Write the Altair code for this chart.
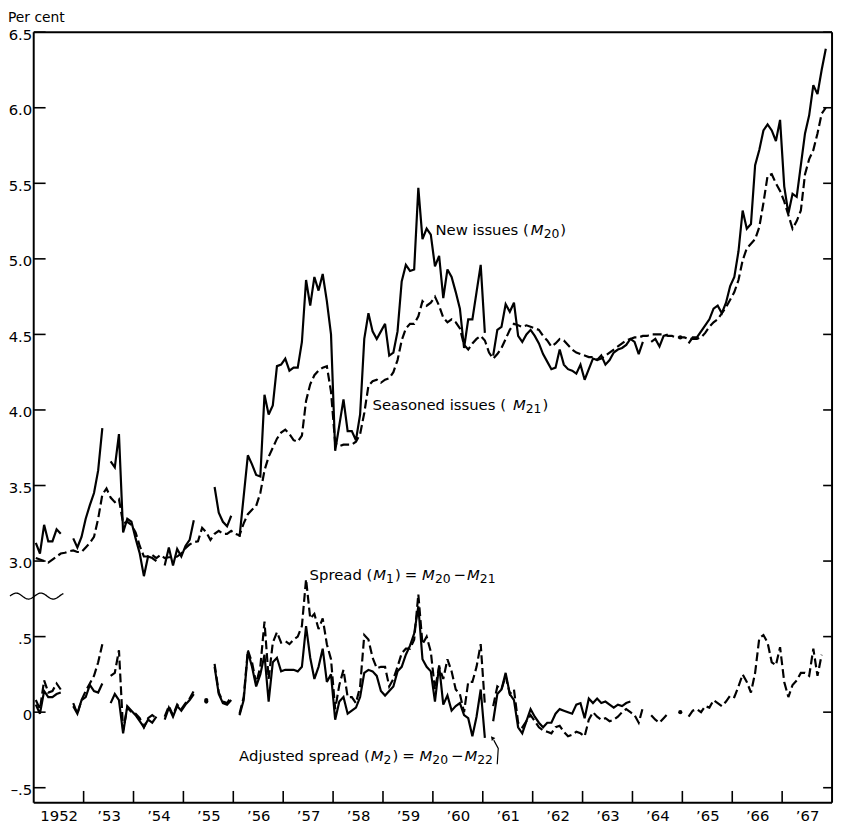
import altair as alt
import numpy as np
import pandas as pd

# ---------------- data (monthly, one row of 12 per year, 1952-1967) ----------------
YEARS = list(range(1952, 1968))

# New issues (M20), per cent
M20_ROWS = [
    [3.12, 3.05, 3.24, 3.13, 3.13, 3.21, 3.18, None, None, 3.15, 3.09, 3.16],
    [3.28, 3.37, 3.45, 3.60, 3.88, None, 3.66, 3.62, 3.84, 3.19, 3.28, 3.26],
    [3.15, 3.05, 2.90, 3.03, 3.02, 3.00, None, 2.97, 3.09, 2.97, 3.08, 3.03],
    [3.10, 3.14, 3.27, None, None, None, None, 3.49, 3.32, 3.26, 3.23, 3.30],
    [None, 3.16, 3.43, 3.70, 3.64, 3.57, 3.56, 4.10, 3.97, 4.03, 4.29, 4.30],
    [4.34, 4.26, 4.28, 4.28, 4.45, 4.86, 4.69, 4.88, 4.79, 4.90, 4.72, 4.50],
    [3.73, 3.90, 4.07, 3.86, 3.86, 3.80, 3.97, 4.47, 4.64, 4.52, 4.47, 4.52],
    [4.57, 4.36, 4.38, 4.52, 4.85, 4.96, 4.92, 4.93, 5.47, 5.13, 5.20, 5.16],
    [4.95, 5.02, 4.74, 4.93, 4.88, 4.78, 4.67, 4.41, 4.60, 4.60, 4.78, 4.96],
    [4.51, None, 4.36, 4.53, 4.55, 4.70, 4.65, 4.71, 4.49, 4.45, 4.50, 4.53],
    [4.49, 4.44, 4.37, 4.32, 4.27, 4.28, 4.40, 4.30, 4.27, 4.26, 4.24, 4.30],
    [4.20, 4.27, 4.34, 4.33, 4.36, 4.30, 4.33, 4.38, 4.40, 4.41, 4.43, 4.47],
    [4.45, 4.37, 4.45, None, 4.45, 4.47, 4.42, 4.49, 4.50, None, None, 4.48],
    [None, 4.44, 4.48, 4.48, 4.52, 4.56, 4.60, 4.67, 4.69, 4.64, 4.71, 4.82],
    [4.88, 5.05, 5.32, 5.20, 5.23, 5.62, 5.72, 5.85, 5.89, 5.85, 5.78, 5.92],
    [5.48, 5.30, 5.43, 5.41, 5.62, 5.83, 5.95, 6.15, 6.09, 6.25, 6.39, None],
]

# Seasoned issues (M21), per cent
M21_ROWS = [
    [3.02, 3.01, 3.00, 2.99, 3.01, 3.03, 3.05, 3.055, 3.065, 3.07, 3.06, 3.06],
    [3.09, 3.12, 3.16, 3.28, 3.44, 3.48, 3.42, 3.39, 3.41, 3.25, 3.26, 3.24],
    [3.19, 3.10, 3.03, 3.03, 3.04, 3.02, 3.04, 3.02, 3.025, 3.025, 3.03, 3.05],
    [3.085, 3.11, 3.125, 3.13, 3.22, 3.19, 3.14, 3.18, 3.20, 3.18, 3.18, 3.20],
    [3.18, 3.17, 3.25, 3.31, 3.34, 3.365, 3.45, 3.60, 3.69, 3.75, 3.81, 3.85],
    [3.87, 3.84, 3.80, 3.79, 3.83, 4.06, 4.17, 4.23, 4.26, 4.28, 4.29, 4.12],
    [3.78, 3.76, 3.77, 3.77, 3.77, 3.79, 3.84, 3.98, 4.16, 4.19, 4.20, 4.18],
    [4.20, 4.21, 4.25, 4.33, 4.46, 4.54, 4.57, 4.57, 4.62, 4.72, 4.69, 4.71],
    [4.75, 4.69, 4.61, 4.58, 4.60, 4.58, 4.54, 4.43, 4.40, 4.44, 4.47, 4.49],
    [4.46, 4.38, 4.34, 4.37, 4.41, 4.47, 4.53, 4.57, 4.56, 4.55, 4.56, 4.55],
    [4.54, 4.53, 4.49, 4.46, 4.42, 4.44, 4.47, 4.46, 4.43, 4.40, 4.38, 4.37],
    [4.36, 4.35, 4.35, 4.33, 4.34, 4.36, 4.38, 4.40, 4.42, 4.44, 4.46, 4.47],
    [4.48, 4.48, 4.49, 4.49, 4.50, 4.50, 4.50, 4.50, 4.49, 4.49, 4.48, 4.48],
    [4.48, 4.47, 4.47, 4.47, 4.48, 4.51, 4.55, 4.58, 4.60, 4.64, 4.68, 4.73],
    [4.78, 4.86, 4.99, 5.07, 5.10, 5.13, 5.21, 5.37, 5.55, 5.56, 5.50, 5.45],
    [5.38, 5.29, 5.20, 5.25, 5.32, 5.56, 5.66, 5.72, 5.83, 5.96, 6.00, None],
]

# Spread (M1) = M20 - M21, percentage points
M1_ROWS = [
    [0.08, 0.02, 0.21, 0.13, 0.14, 0.19, 0.15, None, None, 0.06, -0.01, 0.08],
    [0.14, 0.19, 0.24, 0.33, 0.45, None, 0.24, 0.26, 0.41, -0.12, 0.03, 0.00],
    [-0.01, -0.04, -0.10, -0.04, -0.02, -0.04, None, -0.03, 0.04, -0.02, 0.05, 0.02],
    [0.06, 0.09, 0.14, None, None, 0.08, None, 0.32, 0.13, 0.07, 0.06, 0.10],
    [None, -0.01, 0.10, 0.41, 0.33, 0.19, 0.30, 0.60, 0.22, 0.46, 0.53, 0.46],
    [0.47, 0.45, 0.48, 0.50, 0.57, 0.88, 0.62, 0.65, 0.55, 0.62, 0.45, 0.35],
    [0.02, 0.18, 0.28, 0.10, 0.10, 0.06, 0.17, 0.51, 0.48, 0.36, 0.29, 0.30],
    [0.30, 0.17, 0.22, 0.30, 0.39, 0.42, 0.42, 0.48, 0.78, 0.45, 0.50, 0.40],
    [0.15, 0.30, 0.22, 0.35, 0.27, 0.15, 0.12, 0.00, 0.20, 0.20, 0.30, 0.45],
    [0.05, None, 0.04, 0.17, 0.15, 0.24, 0.12, 0.15, -0.07, -0.10, -0.06, -0.02],
    [-0.06, -0.10, -0.12, -0.13, -0.14, -0.10, -0.09, -0.13, -0.16, -0.15, -0.13, -0.14],
    [-0.16, -0.05, 0.00, -0.03, -0.05, -0.04, -0.06, -0.05, -0.03, 0.00, 0.02, 0.00],
    [-0.02, -0.07, 0.03, None, -0.02, -0.05, -0.07, -0.04, -0.01, None, None, 0.00],
    [None, -0.03, 0.01, 0.02, 0.00, 0.04, 0.03, 0.08, 0.06, 0.04, 0.07, 0.11],
    [0.10, 0.17, 0.25, 0.20, 0.13, 0.26, 0.49, 0.51, 0.46, 0.33, 0.31, 0.43],
    [0.20, 0.10, 0.18, 0.21, 0.26, 0.26, 0.24, 0.42, 0.24, 0.38, None, None],
]

# Adjusted spread (M2) = M20 - M22, percentage points
M2_ROWS = [
    [0.05, -0.01, 0.14, 0.10, 0.10, 0.12, 0.13, None, None, 0.04, -0.01, 0.08],
    [0.10, 0.18, 0.14, 0.13, 0.19, None, 0.06, 0.12, 0.08, -0.14, 0.04, 0.01],
    [-0.02, -0.06, -0.10, -0.05, -0.07, -0.03, None, -0.05, 0.03, -0.03, 0.04, 0.01],
    [0.05, 0.08, 0.12, None, None, 0.07, None, 0.30, 0.12, 0.06, 0.05, 0.08],
    [None, -0.02, 0.08, 0.40, 0.30, 0.17, 0.25, 0.38, 0.07, 0.33, 0.36, 0.27],
    [0.28, 0.28, 0.28, 0.27, 0.30, 0.57, 0.36, 0.22, 0.30, 0.42, 0.20, 0.25],
    [-0.05, 0.07, 0.10, -0.01, 0.01, 0.03, 0.10, 0.26, 0.28, 0.27, 0.24, 0.14],
    [0.11, 0.14, 0.17, 0.27, 0.30, 0.38, 0.44, 0.52, 0.70, 0.35, 0.30, 0.27],
    [0.07, 0.31, 0.05, 0.11, 0.01, 0.04, 0.06, -0.02, -0.04, -0.16, -0.03, 0.15],
    [-0.17, None, -0.06, 0.12, 0.15, 0.26, 0.12, 0.08, -0.10, -0.14, -0.06, 0.02],
    [-0.03, -0.07, -0.10, -0.07, -0.07, -0.01, 0.02, 0.01, 0.00, -0.01, 0.05, 0.06],
    [-0.04, 0.09, 0.06, 0.09, 0.06, 0.07, 0.05, 0.03, 0.05, 0.04, 0.06, 0.07],
    [None] * 12, [None] * 12, [None] * 12, [None] * 12,
]

UPPER_TICKS = [3.0, 3.5, 4.0, 4.5, 5.0, 5.5, 6.0, 6.5]
LOWER_TICKS = [-0.5, 0.0, 0.5]
LOWER_OFFSET = 2.0          # lower panel is drawn 2.0 units under its own labels
LOWER_LABELS = {-0.5: "\u2013.5", 0.0: "0", 0.5: ".5"}

# ---------------- layout ----------------
W, H = 807, 779
X_DOMAIN = [1952, 1968]
Y_DOMAIN = [1.4, 6.5]
PX_PER_YEAR = W / (X_DOMAIN[1] - X_DOMAIN[0])
PX_PER_UNIT = H / (Y_DOMAIN[1] - Y_DOMAIN[0])
FONT = "DejaVu Sans"

# ---------------- build long table with path segments ----------------
series_spec = [
    ("M20", M20_ROWS, "solid", 0.0),
    ("M21", M21_ROWS, "dash", 0.0),
    ("M1", M1_ROWS, "dash", LOWER_OFFSET),
    ("M2", M2_ROWS, "solid", LOWER_OFFSET),
]
rows = []
for name, yrs, style, off in series_spec:
    flat = [v for r in yrs for v in r]
    seg = 0
    prev_none = True
    for i, v in enumerate(flat):
        if v is None:
            prev_none = True
            continue
        if prev_none:
            seg += 1
        prev_none = False
        rows.append({"t": YEARS[0] + (i + 0.5) / 12.0, "y": v + off,
                     "series": name, "style": style, "seg": f"{name}_{seg}"})
df = pd.DataFrame(rows)
counts = df.groupby("seg")["t"].transform("count")
df["single"] = counts == 1

xs = alt.Scale(domain=X_DOMAIN, nice=False, zero=False)
ys = alt.Scale(domain=Y_DOMAIN, nice=False, zero=False)

x_axis = alt.Axis(
    values=[y + 0.5 for y in YEARS],
    labelExpr="datum.value < 1953 ? '1952' : '\u2019' + format(floor(datum.value) % 100, '02d')",
    ticks=False, domain=False, grid=False, title=None, labelPadding=6,
    labelFontSize=15, labelFont=FONT, labelColor="black",
)
lower_expr = " : ".join(
    f"datum.value == {v + LOWER_OFFSET} ? '{lab}'" for v, lab in LOWER_LABELS.items()
)
y_axis = alt.Axis(
    values=[v + LOWER_OFFSET for v in LOWER_TICKS] + UPPER_TICKS,
    labelExpr=f"datum.value >= 3 ? format(datum.value, '.1f') : {lower_expr} : ''",
    ticks=False, domain=False, grid=False, title=None, labelPadding=2,
    labelFontSize=15, labelFont=FONT, labelColor="black", labelOffset=2,
)


def X(field):
    return alt.X(field, type="quantitative", scale=xs, axis=x_axis)


def Y(field):
    return alt.Y(field, type="quantitative", scale=ys, axis=y_axis)


base = alt.Chart(df)
solid = base.transform_filter("datum.style == 'solid'").mark_line(
    color="black", strokeWidth=2.2, strokeJoin="miter", strokeMiterLimit=3
).encode(x=X("t"), y=Y("y"), detail="seg:N", order="t:Q")
dashed = base.transform_filter("datum.style == 'dash'").mark_line(
    color="black", strokeWidth=2.2, strokeDash=[9, 4], strokeJoin="miter", strokeMiterLimit=3
).encode(x=X("t"), y=Y("y"), detail="seg:N", order="t:Q")
dots = base.transform_filter("datum.single").mark_circle(
    color="black", size=18, opacity=1
).encode(x=X("t"), y=Y("y"))

# ---------------- frame and inward ticks ----------------
frame_df = pd.DataFrame({"k": [0]})
frame = [
    alt.Chart(frame_df).mark_rule(color="black", strokeWidth=2).encode(
        x=alt.value(0), y=alt.value(0), y2=alt.value(H)),
    alt.Chart(frame_df).mark_rule(color="black", strokeWidth=2).encode(
        x=alt.value(W), y=alt.value(0), y2=alt.value(H)),
    alt.Chart(frame_df).mark_rule(color="black", strokeWidth=2).encode(
        x=alt.value(0), x2=alt.value(W), y=alt.value(0)),
    alt.Chart(frame_df).mark_rule(color="black", strokeWidth=2).encode(
        x=alt.value(0), x2=alt.value(W), y=alt.value(H)),
]
tick_df = pd.DataFrame({"v": UPPER_TICKS + [v + LOWER_OFFSET for v in LOWER_TICKS]})
left_ticks = alt.Chart(tick_df).mark_rule(color="black", strokeWidth=1.6).encode(
    y=Y("v"), x=alt.value(0), x2=alt.value(12))
right_ticks = alt.Chart(tick_df).mark_rule(color="black", strokeWidth=1.6).encode(
    y=Y("v"), x=alt.value(W - 9), x2=alt.value(W))
xt_df = pd.DataFrame({"yr": YEARS[1:]})
bottom_ticks = alt.Chart(xt_df).mark_rule(color="black", strokeWidth=1.6).encode(
    x=X("yr"), y=alt.value(H), y2=alt.value(H - 12))

# ---------------- axis break symbol ----------------
wx = np.linspace(X_DOMAIN[0] - 24 / PX_PER_YEAR, X_DOMAIN[0] + 30 / PX_PER_YEAR, 80)
wave_center = 6.5 - (598 - 28) / PX_PER_UNIT
wy = wave_center + (3 / PX_PER_UNIT) * np.sin((wx - wx[0]) * PX_PER_YEAR / 25 * 2 * np.pi)
wave = alt.Chart(pd.DataFrame({"wx": wx, "wy": wy})).mark_line(
    color="black", strokeWidth=1.3).encode(x=X("wx"), y=Y("wy"), order="wx:Q")

# ---------------- annotations ----------------
CHARW = {" ": 651, "(": 799, ")": 799, "=": 1716, "\u2212": 1716, "M": 1767}


def tw(s, size):
    return sum(CHARW.get(c, 1303 if c.isdigit() else 1200) for c in s) * size / 2048


FS, SUB = 15, 12.5
annotations = [
    # first text, start year, y (drawn units), following pieces (text, kind, gap px)
    ("New issues (", 1960.05, 5.19,
     [("M", "it", 2), ("20", "sub", 0), (")", "n", 1)]),
    ("Seasoned issues (", 1958.72, 4.03,
     [("M", "it", 7), ("21", "sub", 0), (")", "n", 1)]),
    ("Spread (", 1957.53, 0.906 + LOWER_OFFSET,
     [("M", "it", 1), ("1", "sub", 0), (")", "n", 1), ("=", "n", 4),
      ("M", "it", 5), ("20", "sub", 0), ("\u2212", "n", 3), ("M", "it", 1), ("21", "sub", 0)]),
    ("Adjusted spread (", 1955.99, -0.292 + LOWER_OFFSET,
     [("M", "it", 1), ("2", "sub", 0), (")", "n", 1), ("=", "n", 4),
      ("M", "it", 5), ("20", "sub", 0), ("\u2212", "n", 3), ("M", "it", 1), ("22", "sub", 0)]),
]
first_rows, piece_rows = [], []
for first, x0, y0, pieces in annotations:
    ax = x0 + tw(first, FS) / PX_PER_YEAR
    first_rows.append({"x": ax, "y": y0, "text": first})
    cur = 0.0
    for txt, kind, gap in pieces:
        cur += gap
        size = SUB if kind == "sub" else FS
        yy = y0 - (4 / PX_PER_UNIT if kind == "sub" else 0)
        piece_rows.append({"x": ax + cur / PX_PER_YEAR, "y": yy, "text": txt,
                           "kind": kind, "size": size})
        cur += tw(txt, size)
first_df = pd.DataFrame(first_rows)
piece_df = pd.DataFrame(piece_rows)

ann_first = alt.Chart(first_df).mark_text(
    align="right", baseline="middle", font=FONT, fontSize=FS, color="black"
).encode(x=X("x"), y=Y("y"), text="text:N")
ann_norm = alt.Chart(piece_df).transform_filter("datum.kind != 'it'").mark_text(
    align="left", baseline="middle", font=FONT, color="black"
).encode(x=X("x"), y=Y("y"), text="text:N", size=alt.Size("size:Q", scale=None))
ann_it = alt.Chart(piece_df).transform_filter("datum.kind == 'it'").mark_text(
    align="left", baseline="middle", font=FONT, fontSize=FS, fontStyle="italic", color="black"
).encode(x=X("x"), y=Y("y"), text="text:N")

# small hooked arrow from the adjusted-spread label to its line
arrow_df = pd.DataFrame({
    "ax": [1961.29, 1961.31, 1961.22],
    "ay": [1.655, 1.760, 1.815],
    "o": [0, 1, 2],
})
arrow = alt.Chart(arrow_df).mark_line(color="black", strokeWidth=1.2).encode(
    x=X("ax"), y=Y("ay"), order="o:Q")
head = alt.Chart(pd.DataFrame({"ax": [1961.19], "ay": [1.830]})).mark_point(
    shape="triangle-up", filled=True, color="black", size=22, angle=320, opacity=1
).encode(x=X("ax"), y=Y("ay"))

per_cent = alt.Chart(pd.DataFrame({"t": ["Per cent"]})).mark_text(
    align="left", baseline="middle", font=FONT, fontSize=14, color="black"
).encode(text="t:N", x=alt.value(-26), y=alt.value(-14))

chart = alt.layer(
    solid, dashed, dots, *frame, left_ticks, right_ticks, bottom_ticks, wave,
    ann_first, ann_norm, ann_it, arrow, head, per_cent,
).properties(
    width=W, height=H,
    background="white",
    autosize=alt.AutoSizeParams(type="none"),
    padding={"left": 26, "top": 20, "right": 4, "bottom": 22},
).configure_view(
    stroke=None
)

chart.save("out.html", embed_options={"renderer": "svg", "actions": False})
